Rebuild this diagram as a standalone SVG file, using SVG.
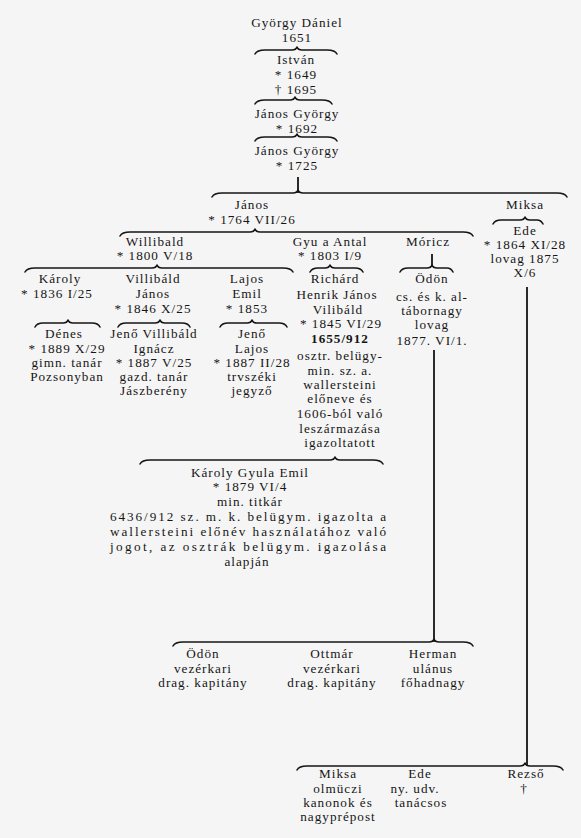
<svg xmlns="http://www.w3.org/2000/svg" width="581" height="838" viewBox="0 0 581 838">
<style>
text{font-family:"Liberation Serif","DejaVu Serif",serif;font-size:13.2px;fill:#151515;text-anchor:middle;letter-spacing:1px}
.b{font-weight:bold}
.br{fill:none;stroke:#151515;stroke-width:1.6;stroke-linecap:round;stroke-linejoin:round}
.ln{fill:none;stroke:#151515;stroke-width:1.8}
</style>
<rect width="581" height="838" fill="#f5f5f5"/>
<g id="connectors">
<path class="br" d="M255 54 Q257 50 265 50 L292 50 Q296 50 297 47 Q298 50 302 50 L327 50 Q335 50 337 54"/>
<path class="br" d="M255 104 Q257 100 265 100 L290 100 Q294 100 295 97 Q296 100 300 100 L322 100 Q330 100 332 104"/>
<path class="br" d="M255 141 Q257 137 265 137 L292 137 Q296 137 297 134 Q298 137 302 137 L327 137 Q335 137 337 141"/>
<path class="ln" d="M298 177 L298 193"/>
<path class="br" d="M212 197 Q214 193 222 193 L293 193 Q297 193 298 190 Q299 193 303 193 L557 193 Q565 193 567 197"/>
<path class="br" d="M120 236 Q122 232 130 232 L250 232 Q254 232 255 229 Q256 232 260 232 L463 232 Q471 232 473 236"/>
<path class="br" d="M493 224 Q495 220 501 220 L520 220 Q524 220 525 217 Q526 220 530 220 L537 220 Q541 220 543 224"/>
<path class="br" d="M25 272 Q27 268 35 268 L152 268 Q156 268 157 265 Q158 268 162 268 L283 268 Q291 268 293 272"/>
<path class="br" d="M310 272 Q312 268 318 268 L325 268 Q329 268 330 265 Q331 268 335 268 L355 268 Q361 268 363 272"/>
<path class="ln" d="M432 254 L432 267"/>
<path class="br" d="M400 272 Q402 268 408 268 L427 268 Q431 268 432 265 Q433 268 437 268 L447 268 Q451 268 453 272"/>
<path class="br" d="M35 327 Q37 323 43 323 L63 323 Q67 323 68 320 Q69 323 73 323 L92 323 Q98 323 100 327"/>
<path class="br" d="M118 327 Q120 323 126 323 L155 323 Q159 323 160 320 Q161 323 165 323 L182 323 Q188 323 190 327"/>
<path class="br" d="M220 327 Q222 323 228 323 L247 323 Q251 323 252 320 Q253 323 257 323 L279 323 Q285 323 287 327"/>
<path class="br" d="M140 464 Q142 460 150 460 L330 460 Q334 460 335 457 Q336 460 340 460 L373 460 Q381 460 383 464"/>
<path class="ln" d="M434 350 L434 642"/>
<path class="br" d="M173 646 Q175 642 183 642 L429 642 Q433 642 434 639 Q435 642 439 642 L463 642 Q471 642 473 646"/>
<path class="ln" d="M527 287 L527 766"/>
<path class="br" d="M297 770 Q299 766 307 766 L520 766 Q524 766 525 763 Q526 766 530 766 L553 766 Q561 766 563 770"/>
</g>
<g id="n-gyorgy-daniel"><text x="297" y="27">György Dániel</text><text x="297" y="42">1651</text></g>
<g id="n-istvan"><text x="296" y="64">István</text><text x="296" y="79">* 1649</text><text x="296" y="94">† 1695</text></g>
<g id="n-janos-gyorgy-1"><text x="297" y="118">János György</text><text x="297" y="133">* 1692</text></g>
<g id="n-janos-gyorgy-2"><text x="297" y="155">János György</text><text x="297" y="170">* 1725</text></g>
<g id="n-janos"><text x="252" y="209">János</text><text x="252" y="224">* 1764 VII/26</text></g>
<g id="n-miksa"><text x="525" y="209">Miksa</text></g>
<g id="n-ede"><text x="525" y="235">Ede</text><text x="525" y="249">* 1864 XI/28</text><text x="525" y="263">lovag 1875</text><text x="525" y="277">X/6</text></g>
<g id="n-willibald"><text x="155" y="246">Willibald</text><text x="155" y="260">* 1800 V/18</text></g>
<g id="n-gyula-antal"><text x="330" y="246">Gyu a Antal</text><text x="330" y="260">* 1803 I/9</text></g>
<g id="n-moricz"><text x="428" y="246">Móricz</text></g>
<g id="n-karoly"><text x="60" y="283">Károly</text><text x="57" y="298">* 1836 I/25</text></g>
<g id="n-villibald-janos"><text x="153" y="283">Villibáld</text><text x="153" y="298">János</text><text x="153" y="313">* 1846 X/25</text></g>
<g id="n-lajos-emil"><text x="247" y="283">Lajos</text><text x="247" y="298">Emil</text><text x="247" y="313">* 1853</text></g>
<g id="n-richard"><text x="335" y="283">Richárd</text><text x="337" y="299">Henrik János</text><text x="338" y="314">Vilibáld</text><text x="341" y="328">* 1845 VI/29</text><text class="b" x="340" y="343">1655/912</text><text x="340" y="360">osztr. belügy-</text><text x="340" y="375">min. sz. a.</text><text x="340" y="389">wallersteini</text><text x="340" y="403">előneve és</text><text x="340" y="418">1606-ból való</text><text x="340" y="433">leszármazása</text><text x="340" y="447">igazoltatott</text></g>
<g id="n-odon-1"><text x="432" y="283">Ödön</text><text x="432" y="301">cs. és k. al-</text><text x="432" y="315">tábornagy</text><text x="432" y="329">lovag</text><text x="432" y="345">1877. VI/1.</text></g>
<g id="n-denes"><text x="64" y="338">Dénes</text><text x="67" y="353">* 1889 X/29</text><text x="67" y="367">gimn. tanár</text><text x="67" y="381">Pozsonyban</text></g>
<g id="n-jeno-villibald"><text x="154" y="338">Jenő Villibáld</text><text x="154" y="353">Ignácz</text><text x="154" y="367">* 1887 V/25</text><text x="154" y="381">gazd. tanár</text><text x="154" y="395">Jászberény</text></g>
<g id="n-jeno-lajos"><text x="252" y="338">Jenő</text><text x="252" y="353">Lajos</text><text x="252" y="367">* 1887 II/28</text><text x="252" y="381">trvszéki</text><text x="252" y="395">jegyző</text></g>
<g id="n-karoly-gyula-emil"><text x="250" y="477">Károly Gyula Emil</text><text x="250" y="491">* 1879 VI/4</text><text x="250" y="506">min. titkár</text><text x="248.5" y="521" textLength="277" lengthAdjust="spacing">6436/912 sz. m. k. belügym. igazolta a</text><text x="248.5" y="536" textLength="277" lengthAdjust="spacing">wallersteini előnév használatához való</text><text x="248.5" y="551" textLength="277" lengthAdjust="spacing">jogot, az osztrák belügym. igazolása</text><text x="247" y="566">alapján</text></g>
<g id="n-odon-2"><text x="203" y="658">Ödön</text><text x="203" y="673">vezérkari</text><text x="203" y="687">drag. kapitány</text></g>
<g id="n-ottmar"><text x="332" y="658">Ottmár</text><text x="332" y="673">vezérkari</text><text x="332" y="687">drag. kapitány</text></g>
<g id="n-herman"><text x="433" y="658">Herman</text><text x="433" y="673">ulánus</text><text x="433" y="687">főhadnagy</text></g>
<g id="n-miksa-2"><text x="338" y="778">Miksa</text><text x="338" y="793">olmüczi</text><text x="338" y="807">kanonok és</text><text x="338" y="821">nagyprépost</text></g>
<g id="n-ede-2"><text x="420" y="778">Ede</text><text x="415" y="793">ny. udv.</text><text x="421" y="807">tanácsos</text></g>
<g id="n-rezso"><text x="526" y="778">Rezső</text><text x="524" y="793">†</text></g>
</svg>
